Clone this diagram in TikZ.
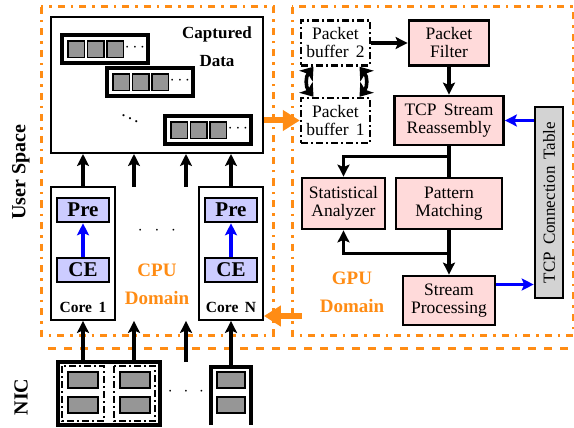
\documentclass[tikz,border=0pt]{standalone}
\usepackage{fontspec}
\setmainfont{Liberation Serif}
\usetikzlibrary{arrows.meta}

\definecolor{domorange}{RGB}{255,140,20}
\definecolor{pinkfill}{RGB}{255,218,218}
\definecolor{lavfill}{RGB}{204,204,255}
\definecolor{cellgray}{RGB}{150,150,150}
\definecolor{tablegray}{RGB}{211,211,211}
\definecolor{flowblue}{RGB}{0,0,255}

\tikzset{
  txt/.style={font=\fontsize{17.5}{18}\selectfont, align=center},
  procbox/.style={draw, line width=2.8pt, fill=pinkfill, inner sep=0pt, txt},
  bufbox/.style={draw, line width=2.4pt, dash pattern=on 7pt off 3pt on 2pt off 3pt, inner sep=0pt, txt},
  corebox/.style={draw, line width=1.8pt, inner sep=0pt},
  stagebox/.style={draw, line width=2.6pt, fill=lavfill, inner sep=0pt,
    minimum width=52pt, minimum height=24pt, font=\fontsize{21}{22}\selectfont\bfseries},
  domainbox/.style={draw=domorange, line width=3pt, dash pattern=on 7pt off 6pt on 2.5pt off 6pt},
  flow/.style={-{Stealth[length=12pt,width=12pt,inset=2.5pt]}, line width=3.2pt},
  swapflow/.style={{Stealth[length=12pt,width=17pt,inset=3pt]}-{Stealth[length=12pt,width=17pt,inset=3pt]}, line width=3.6pt},
  blueflow/.style={-{Stealth[length=12pt,width=12pt,inset=2.5pt]}, line width=3.2pt, draw=flowblue},
  orangeflow/.style={-{Triangle[length=17pt,width=20pt]}, line width=6pt, draw=domorange},
  cell/.style={draw, line width=1.3pt, fill=cellgray},
  nicdash/.style={draw, line width=2.2pt, dash pattern=on 7pt off 3pt on 2pt off 3pt},
  domtxt/.style={font=\fontsize{19}{20}\selectfont\bfseries, text=domorange, align=center},
  sidetxt/.style={font=\fontsize{20}{20}\selectfont\bfseries, rotate=90},
  bufrow/.pic={
    \draw[line width=3.8pt, fill=white] (0,0) rectangle (86,28);
    \foreach \i in {0,1,2}
      \draw[cell] (6+19.5*\i,6) rectangle ++(16.5,16.5);
    \node[font=\fontsize{17}{17}\selectfont] at (73,13) {$\cdots$};
  }
}

\begin{document}
\begin{tikzpicture}[x=1pt,y=-1pt]
\useasboundingbox (0,0) rectangle (574,428);

% ---------- domains ----------
\draw[domainbox] (41,7) rectangle (273,335);
\draw[domainbox] (292,7) rectangle (573,335);
\draw[draw=domorange, line width=3pt, dash pattern=on 8pt off 8pt] (48,348) -- (574,348);

\node[sidetxt] (uspace) at (21,172) {User Space};
\node[sidetxt] (nictxt) at (21,397) {NIC};

% ---------- captured data ----------
\node[draw, line width=2pt, minimum width=212pt, minimum height=136pt, inner sep=0pt] (captured) at (157,85) {};
\node[font=\fontsize{17}{20}\selectfont\bfseries, align=center] (captxt) at (217,47) {Captured\\[8pt]Data};
\pic (row1) at (62,35) {bufrow};
\pic (row2) at (107,68) {bufrow};
\pic (row3) at (165,116) {bufrow};
\node[font=\fontsize{18}{18}\selectfont] (vdots) at (130,116) {$\ddots$};

% ---------- cores ----------
\node[corebox, minimum width=64pt, minimum height=133pt] (core1) at (83,253.5) {};
\node[corebox, minimum width=64pt, minimum height=133pt] (coreN) at (231,253.5) {};
\node[stagebox] (pre1) at (83,210) {Pre};
\node[stagebox] (ce1) at (83,270) {CE};
\node[stagebox] (preN) at (231,210) {Pre};
\node[stagebox] (ceN) at (231,270) {CE};
\draw[blueflow] (ce1.north) -- (pre1.south);
\draw[blueflow] (ceN.north) -- (preN.south);
\node[font=\fontsize{15.5}{16}\selectfont\bfseries] (c1txt) at (83,307) {Core\, 1};
\node[font=\fontsize{15.5}{16}\selectfont\bfseries] (cNtxt) at (231,307) {Core\, N};
\node[font=\fontsize{19}{19}\selectfont] (coredots) at (157,231) {$\cdot\hspace{8pt}\cdot\hspace{8pt}\cdot$};
\node[domtxt] (cpudom) at (157,284) {CPU\\[8pt]Domain};

% arrows from cores into captured data
\coordinate (m1) at (134,187);
\coordinate (m2) at (186,187);
\draw[flow] (core1.north) -- (core1.north |- captured.south);
\draw[flow] (m1) -- (m1 |- captured.south);
\draw[flow] (m2) -- (m2 |- captured.south);
\draw[flow] (coreN.north) -- (coreN.north |- captured.south);

% ---------- NIC ----------
\node[draw, line width=3.8pt, minimum width=102pt, minimum height=63pt, inner sep=0pt] (nic1) at (109,393.5) {};
\draw[nicdash] (62,366) rectangle (104,421);
\draw[nicdash] (114,366) rectangle (155,421);
\draw[cell] (68,372) rectangle (98,388);
\draw[cell] (68,397) rectangle (98,413);
\draw[cell] (120,372) rectangle (150,388);
\draw[cell] (120,397) rectangle (150,413);
\draw[line width=3.8pt] (211,425) -- (211,367) -- (251,367) -- (251,425);
\draw[cell] (217,372) rectangle (245,388);
\draw[cell] (217,397) rectangle (245,413);
\coordinate (nic3) at (231,367);
\node[font=\fontsize{19}{19}\selectfont] (nicdots) at (186,392) {$\cdot\hspace{7pt}\cdot\hspace{7pt}\cdot$};

\coordinate (n1) at (134,362);
\coordinate (n2) at (186,362);
\draw[flow] (nic1.north -| core1) -- (core1.south);
\draw[flow] (n1) -- (n1 |- core1.south);
\draw[flow] (n2) -- (n2 |- core1.south);
\draw[flow] (nic3) -- (coreN.south);

% ---------- GPU side ----------
\node[bufbox, minimum width=69pt, minimum height=45pt] (pb2) at (335.5,43) {Packet\\buffer\, 2};
\node[bufbox, minimum width=69pt, minimum height=45pt] (pb1) at (335.5,120.5) {Packet\\buffer\, 1};
\node[procbox, minimum width=80pt, minimum height=45pt] (filter) at (449,43) {Packet\\Filter};
\node[procbox, minimum width=109pt, minimum height=49pt] (tsr) at (449,120.5) {TCP\, Stream\\Reassembly};
\node[procbox, minimum width=83pt, minimum height=51pt] (sa) at (343.5,203.5) {Statistical\\Analyzer};
\node[procbox, minimum width=106pt, minimum height=51pt] (pm) at (449,203.5) {Pattern\\Matching};
\node[procbox, minimum width=92pt, minimum height=49pt] (sp) at (449,300.5) {Stream\\Processing};
\node[draw, line width=2.6pt, fill=tablegray, rotate=90, minimum width=191pt, minimum height=28pt,
      inner sep=0pt, font=\fontsize{17}{17}\selectfont] (tct) at (549,202.5) {TCP\, Connection\, Table};
\node[domtxt] (gpudom) at (352,292) {GPU\\[8pt]Domain};

\draw[flow] (pb2.east) -- (filter.west);
\draw[flow] (filter.south) -- (tsr.north);
\draw[line width=3.2pt] (tsr.south) -- (pm.north);
\draw[flow] (tsr.south) ++(0,10) -| (sa.north);
\draw[flow] (pm.south) -- (sp.north);
\draw[flow] (pm.south) ++(0,23) -| (sa.south);

% buffer swap between the two packet buffers
\coordinate (swL1) at ([xshift=-22pt]pb2.south);
\coordinate (swL2) at ([xshift=-22pt]pb1.north);
\coordinate (swR1) at ([xshift=24pt]pb2.south);
\coordinate (swR2) at ([xshift=24pt]pb1.north);
\draw[swapflow] (swL1) .. controls ++(-8,10) and ++(-8,-10) .. (swL2);
\draw[swapflow] (swR1) .. controls ++(8,10) and ++(8,-10) .. (swR2);

\draw[blueflow] (tct.north |- tsr.east) -- (tsr.east);
\draw[blueflow] ([yshift=16pt]sp.east) -- ([yshift=16pt]sp.east -| tct.north);

% ---------- transfers between domains ----------
\draw[orangeflow] (captured.east |- pb1.west) -- (pb1.west);
\coordinate (gpuout) at (302,316);
\draw[orangeflow] (gpuout) -- (gpuout -| coreN.east);
\end{tikzpicture}
\end{document}
